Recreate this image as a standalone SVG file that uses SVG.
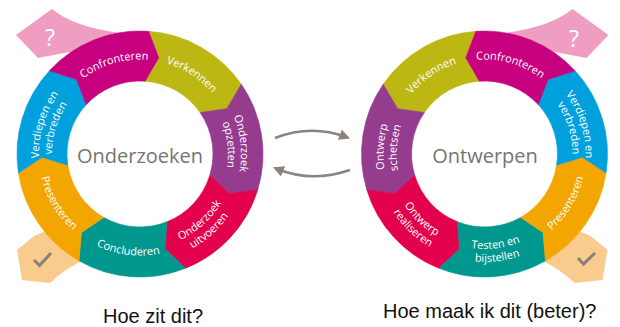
<svg xmlns="http://www.w3.org/2000/svg" width="620" height="327" viewBox="0 0 620 327">
<style>
.seg{stroke-width:0.6}
.lbl{font-family:"Open Sans","DejaVu Sans",sans-serif;font-size:11px;fill:#ffffff;text-anchor:middle}
.title{font-family:"Open Sans","DejaVu Sans",sans-serif;font-size:20px;fill:#7a746f;text-anchor:middle}
.q{font-family:"Liberation Sans",Arial,sans-serif;font-size:20px;fill:#111111}
.arr{fill:none;stroke:#8c847c;stroke-width:2.5}
.flagtxt{font-family:"Open Sans","DejaVu Sans",sans-serif;font-size:23px;fill:#ffffff;text-anchor:middle}
.chk{fill:none;stroke:#86817b;stroke-width:3;stroke-linecap:butt;stroke-linejoin:miter}
</style>
<defs>
<path id="seg" d="M123,0 A123,123 0 0 1 76.689,96.165 L51.311,83.497 L45.515,57.074 A73,73 0 0 0 73,0 L97.270,11.943 Z"/>
<path id="pinkflag" d="M16,35 L52,9 Q74,27 120,33 L100,70 L80,50 L38,58 Z"/>
<path id="peachflag" d="M17,250 L34,236 L60,225 L88,258 Q65,268 50,283 L22,280 Z"/>
<path id="cw94" d="M-88.80,-32.32 A94.5,94.5 0 0 1 88.80,-32.32"/>
<path id="cw101" d="M-94.91,-34.54 A101,101 0 0 1 94.91,-34.54"/>
<path id="cw88" d="M-82.69,-30.10 A88,88 0 0 1 82.69,-30.10"/>
<path id="ccw101" d="M-95.38,34.72 A101.5,101.5 0 0 0 95.38,34.72"/>
<path id="ccw95" d="M-89.27,32.49 A95,95 0 0 0 89.27,32.49"/>
<path id="ccw108" d="M-101.49,36.94 A108,108 0 0 0 101.49,36.94"/>
<marker id="ah" viewBox="0 0 10 10" refX="6" refY="5" markerWidth="11" markerHeight="11" markerUnits="userSpaceOnUse" orient="auto"><path d="M0,0 L10,5 L0,10 Z" fill="#8c847c"/></marker>
</defs>

<!-- Left cycle: Onderzoeken -->
<g id="left-flags">
<use href="#pinkflag" fill="#ef9dc0"/>
<text class="flagtxt" x="50" y="46">?</text>
<use href="#peachflag" fill="#f9cb8c"/>
<polyline class="chk" points="34,260 39.5,265.5 51,253"/>
</g>

<g id="l-verkennen">
<use href="#seg" class="seg" fill="#bcb712" stroke="#bcb712" transform="translate(140,154) rotate(-86)"/>
<text class="lbl" transform="translate(140,154) rotate(33)"><textPath href="#cw94" startOffset="50%">Verkennen</textPath></text>
</g>
<g id="l-opzetten">
<use href="#seg" class="seg" fill="#953c8f" stroke="#953c8f" transform="translate(140,154) rotate(-34.57)"/>
<text class="lbl" transform="translate(140,154) rotate(84)"><textPath href="#cw101" startOffset="50%">Onderzoek</textPath></text>
<text class="lbl" transform="translate(140,154) rotate(84)"><textPath href="#cw88" startOffset="50%">opzetten</textPath></text>
</g>
<g id="l-uitvoeren">
<use href="#seg" class="seg" fill="#e3004c" stroke="#e3004c" transform="translate(140,154) rotate(16.86)"/>
<text class="lbl" transform="translate(140,154) rotate(-42)"><textPath href="#ccw95" startOffset="50%">Onderzoek</textPath></text>
<text class="lbl" transform="translate(140,154) rotate(-42)"><textPath href="#ccw108" startOffset="50%">uitvoeren</textPath></text>
</g>
<g id="l-concluderen">
<use href="#seg" class="seg" fill="#00978f" stroke="#00978f" transform="translate(140,154) rotate(68.29)"/>
<text class="lbl" transform="translate(140,154) rotate(7)"><textPath href="#ccw101" startOffset="50%">Concluderen</textPath></text>
</g>
<g id="l-presenteren">
<use href="#seg" class="seg" fill="#f4a600" stroke="#f4a600" transform="translate(140,154) rotate(119.71)"/>
<text class="lbl" transform="translate(140,154) rotate(59)"><textPath href="#ccw101" startOffset="50%">Presenteren</textPath></text>
</g>
<g id="l-verdiepen">
<use href="#seg" class="seg" fill="#00a0dc" stroke="#00a0dc" transform="translate(140,154) rotate(171.14)"/>
<text class="lbl" transform="translate(140,154) rotate(-73)"><textPath href="#cw101" startOffset="50%">Verdiepen en</textPath></text>
<text class="lbl" transform="translate(140,154) rotate(-73)"><textPath href="#cw88" startOffset="50%">verbreden</textPath></text>
</g>
<g id="l-confronteren">
<use href="#seg" class="seg" fill="#c6007e" stroke="#c6007e" transform="translate(140,154) rotate(222.57)"/>
<text class="lbl" transform="translate(140,154) rotate(-16)"><textPath href="#cw94" startOffset="50%">Confronteren</textPath></text>
</g>
<g id="l-center">
<text class="title" x="140" y="163">Onderzoeken</text>
</g>

<!-- Right cycle: Ontwerpen -->
<g id="right-flags">
<use href="#pinkflag" fill="#ef9dc0" transform="translate(624.5,0) scale(-1,1)"/>
<text class="flagtxt" x="574" y="47">?</text>
<use href="#peachflag" fill="#f9cb8c" transform="translate(624.5,0) scale(-1,1)"/>
<polyline class="chk" points="578,258 583.5,264 595,253"/>
</g>

<g id="r-verkennen">
<use href="#seg" class="seg" fill="#bcb712" stroke="#bcb712" transform="translate(484.5,154) scale(-1,1) rotate(-86)"/>
<text class="lbl" transform="translate(484.5,154) rotate(-34)"><textPath href="#cw94" startOffset="50%">Verkennen</textPath></text>
</g>
<g id="r-schetsen">
<use href="#seg" class="seg" fill="#953c8f" stroke="#953c8f" transform="translate(484.5,154) scale(-1,1) rotate(-34.57)"/>
<text class="lbl" transform="translate(484.5,154) rotate(-86)"><textPath href="#cw101" startOffset="50%">Ontwerp</textPath></text>
<text class="lbl" transform="translate(484.5,154) rotate(-86)"><textPath href="#cw88" startOffset="50%">schetsen</textPath></text>
</g>
<g id="r-realiseren">
<use href="#seg" class="seg" fill="#e3004c" stroke="#e3004c" transform="translate(484.5,154) scale(-1,1) rotate(16.86)"/>
<text class="lbl" transform="translate(484.5,154) rotate(44)"><textPath href="#ccw95" startOffset="50%">Ontwerp</textPath></text>
<text class="lbl" transform="translate(484.5,154) rotate(44)"><textPath href="#ccw108" startOffset="50%">realiseren</textPath></text>
</g>
<g id="r-testen">
<use href="#seg" class="seg" fill="#00978f" stroke="#00978f" transform="translate(484.5,154) scale(-1,1) rotate(68.29)"/>
<text class="lbl" transform="translate(484.5,154) rotate(-7)"><textPath href="#ccw95" startOffset="50%">Testen en</textPath></text>
<text class="lbl" transform="translate(484.5,154) rotate(-7)"><textPath href="#ccw108" startOffset="50%">bijstellen</textPath></text>
</g>
<g id="r-presenteren">
<use href="#seg" class="seg" fill="#f4a600" stroke="#f4a600" transform="translate(484.5,154) scale(-1,1) rotate(119.71)"/>
<text class="lbl" transform="translate(484.5,154) rotate(-59)"><textPath href="#ccw101" startOffset="50%">Presenteren</textPath></text>
</g>
<g id="r-verdiepen">
<use href="#seg" class="seg" fill="#00a0dc" stroke="#00a0dc" transform="translate(484.5,154) scale(-1,1) rotate(171.14)"/>
<text class="lbl" transform="translate(484.5,154) rotate(73)"><textPath href="#cw101" startOffset="50%">Verdiepen en</textPath></text>
<text class="lbl" transform="translate(484.5,154) rotate(73)"><textPath href="#cw88" startOffset="50%">verbreden</textPath></text>
</g>
<g id="r-confronteren">
<use href="#seg" class="seg" fill="#c6007e" stroke="#c6007e" transform="translate(484.5,154) scale(-1,1) rotate(222.57)"/>
<text class="lbl" transform="translate(484.5,154) rotate(16)"><textPath href="#cw94" startOffset="50%">Confronteren</textPath></text>
</g>
<g id="r-center">
<text class="title" x="485" y="163">Ontwerpen</text>
</g>

<g id="connectors">
<path class="arr" d="M275,138 Q311,124 346,137" marker-end="url(#ah)"/>
<path class="arr" d="M350,170 Q312,183 277,169" marker-end="url(#ah)"/>
</g>

<g id="captions">
<text class="q" x="103" y="323">Hoe zit dit?</text>
<text class="q" x="383" y="318">Hoe maak ik dit (beter)?</text>
</g>
</svg>
